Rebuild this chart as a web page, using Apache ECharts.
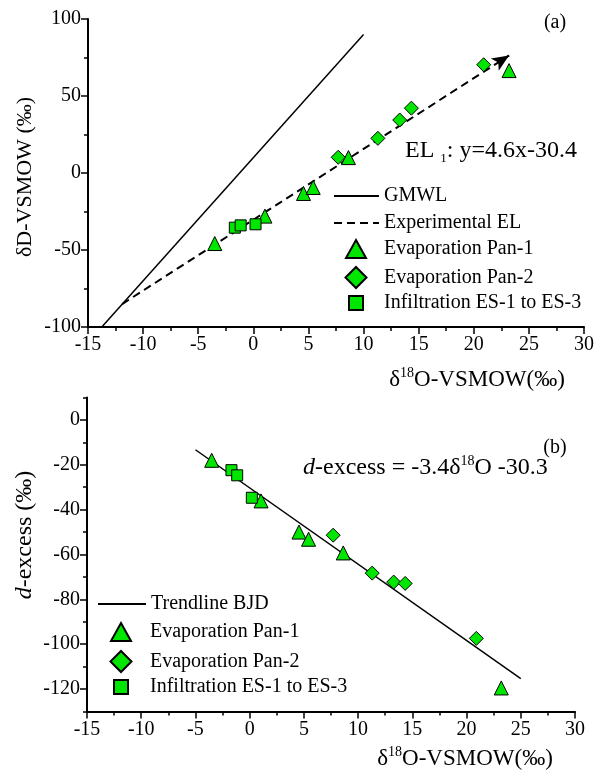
<!DOCTYPE html>
<html><head><meta charset="utf-8">
<script src="https://cdn.jsdelivr.net/npm/echarts@6/dist/echarts.min.js"></script>
<style>html,body{margin:0;padding:0;background:#fff}#c{width:598px;height:772px}</style>
</head><body><div id="c"></div>
<script>
// ---- data (δ18O on x) ----
const pan1_d18O = [-3.5, 1.05, 4.55, 5.43, 8.63, 23.2];
const pan1_dD   = [-45.8, -28.0, -13.3, -9.4, 10.0, 66.5];
const pan1_dex  = [-18.0, -36.1, -50.0, -53.2, -59.3, -119.5];
const pan2_d18O = [7.7, 11.3, 13.28, 14.34, 20.9];
const pan2_dD   = [10.2, 22.5, 34.4, 42.1, 70.3];
const pan2_dex  = [-51.4, -68.3, -72.3, -72.9, -97.4];
const inf_d18O  = [-1.68, -1.15, 0.2];
const inf_dD    = [-35.5, -34.0, -33.3];
const inf_dex   = [-22.4, -24.7, -34.7];
const gmwl_x = [-13.75, 10];   const gmwl_y = [-100, 90];
const el_x   = [-11.9, 23.2];  const el_y   = [-85.1, 76.3];
const trend_x = [-5, 25];      const trend_y = [-13.3, -115.3];
const xTicks = {min: -15, max: 30, interval: 5};
const yTopTicks = {min: -100, max: 100, interval: 50};
const yBotTicks = {min: -130, max: 10, interval: 10};
const yBotMajor = [0, -20, -40, -60, -80, -100, -120];

const zip = (a, b) => a.map((v, i) => [v, b[i]]);
const FONT = 'Liberation Serif';
const GREEN = '#00e600';

function axisBase() {
  return {
    type: 'value',
    axisLine: {show: true, onZero: false, lineStyle: {color: '#000', width: 2}},
    axisTick: {show: true, inside: false, length: 7, lineStyle: {color: '#000', width: 1.5}},
    minorTick: {show: true, splitNumber: 2, length: 4, lineStyle: {color: '#000', width: 1.5}},
    splitLine: {show: false},
    minorSplitLine: {show: false},
    axisLabel: {color: '#000', fontSize: 20, fontFamily: FONT, margin: 8}
  };
}

const mk = {color: GREEN, borderColor: '#000', borderWidth: 1, opacity: 1};
function scatter(name, sym, size, xi, data) {
  return {name, type: 'scatter', xAxisIndex: xi, yAxisIndex: xi, symbol: sym, symbolSize: size,
    itemStyle: mk, data, z: 5, emphasis: {disabled: true}};
}
function lineS(name, xi, data, type, width) {
  return {name, type: 'line', xAxisIndex: xi, yAxisIndex: xi, data, symbol: 'none', showSymbol: false,
    lineStyle: {color: '#000', width, type}, itemStyle: {color: '#000'}, z: 2, silent: true, animation: false};
}

const elSeries = lineS('Experimental EL', 0, zip(el_x, el_y), [8, 5], 2);
const t = 0.97;
elSeries.markLine = {
  silent: true, animation: false, symbol: ['none', 'arrow'], symbolSize: [11, 17],
  label: {show: false}, lineStyle: {color: '#000', type: 'solid', width: 2},
  data: [[{coord: [el_x[0] + (el_x[1] - el_x[0]) * t, el_y[0] + (el_y[1] - el_y[0]) * t]},
          {coord: [el_x[1], el_y[1]]}]]
};

const series = [
  lineS('GMWL', 0, zip(gmwl_x, gmwl_y), 'solid', 1.5),
  elSeries,
  scatter('Evaporation Pan-1', 'triangle', 14, 0, zip(pan1_d18O, pan1_dD)),
  scatter('Evaporation Pan-2', 'diamond', 14, 0, zip(pan2_d18O, pan2_dD)),
  scatter('Infiltration ES-1 to ES-3', 'rect', 11, 0, zip(inf_d18O, inf_dD)),
  lineS('Trendline BJD', 1, zip(trend_x, trend_y), 'solid', 1.5),
  scatter('Evaporation Pan-1', 'triangle', 14, 1, zip(pan1_d18O, pan1_dex)),
  scatter('Evaporation Pan-2', 'diamond', 14, 1, zip(pan2_d18O, pan2_dex)),
  scatter('Infiltration ES-1 to ES-3', 'rect', 11, 1, zip(inf_d18O, inf_dex))
];

function legLine(name, left, cy, w) {
  return {data: [name], left, top: cy - 11, itemWidth: w, itemHeight: 14, selectedMode: false, padding: 0,
    itemStyle: {color: 'rgba(0,0,0,0)', borderWidth: 0},
    textStyle: {color: '#000', fontSize: 20, fontFamily: FONT}};
}
function legSym(name, cx, cy, w, h, textX) {
  const left = cx - w / 2;
  return {data: [name], left, top: cy - 11, itemWidth: w, itemHeight: h, selectedMode: false, padding: 0,
    itemStyle: {opacity: 1},
    textStyle: {color: '#000', fontSize: 20, fontFamily: FONT, padding: [0, 0, 0, textX - (left + w + 5)]}};
}
const legends = [
  legLine('GMWL', 333, 197, 45),
  legLine('Experimental EL', 333, 224, 45),
  legSym('Evaporation Pan-1', 355, 250, 20, 18, 383),
  legSym('Evaporation Pan-2', 355, 277, 21, 21, 383),
  legSym('Infiltration ES-1 to ES-3', 355, 304, 14, 14, 383),
  legLine('Trendline BJD', 97, 605, 48),
  legSym('Evaporation Pan-1', 120, 633, 20, 18, 149),
  legSym('Evaporation Pan-2', 120, 661, 21, 21, 149),
  legSym('Infiltration ES-1 to ES-3', 120, 688, 14, 14, 149)
];

const xa0 = Object.assign(axisBase(), {gridIndex: 0}, xTicks);
const xa1 = Object.assign(axisBase(), {gridIndex: 1}, xTicks);
const ya0 = Object.assign(axisBase(), {gridIndex: 0}, yTopTicks);
ya0.axisLabel.margin = 7;
const ya1 = Object.assign(axisBase(), {gridIndex: 1, position: 'left'}, yBotTicks);
ya1.minorTick = {show: false};
ya1.axisTick.length = 4;
ya1.axisLabel.margin = 7;
ya1.axisLabel.formatter = v => (v % 20 === 0 ? String(v) : '');
const ya2 = Object.assign(axisBase(), {gridIndex: 1, position: 'left'}, yBotTicks);
ya2.axisLine = {show: false, onZero: false};
ya2.axisLabel = {show: false};
ya2.minorTick = {show: false};
ya2.axisTick.customValues = yBotMajor;

function richSet(fs) {
  const base = {fontSize: fs, fontFamily: FONT, color: '#000', lineHeight: fs + 4};
  return {
    b: base,
    i: Object.assign({}, base, {fontStyle: 'italic'}),
    sup: {fontSize: Math.round(fs * 0.6), fontFamily: FONT, color: '#000', verticalAlign: 'top', lineHeight: fs + 4},
    sub: {fontSize: Math.round(fs * 0.55), fontFamily: FONT, color: '#000', verticalAlign: 'bottom', lineHeight: fs + 4}
  };
}
function gtext(x, y, text, fs, align, rotation) {
  return {type: 'text', x, y, rotation: rotation || 0, silent: true,
    style: {text, fill: '#000', fontSize: fs, fontFamily: FONT, align: align || 'left', verticalAlign: 'middle',
      rich: richSet(fs)}};
}
const graphics = [
  gtext(555, 23, '{b|(a)}', 20, 'center'),
  gtext(555, 448, '{b|(b)}', 20, 'center'),
  gtext(405, 151, '{b|EL }{sub|1}{b|: y=4.6x-30.4}', 24),
  gtext(303, 468, '{i|d}{b|-excess = -3.4δ}{sup|18}{b|O -30.3}', 24),
  gtext(477, 380, '{b|δ}{sup|18}{b|O-VSMOW(‰)}', 23, 'center'),
  gtext(465, 759, '{b|δ}{sup|18}{b|O-VSMOW(‰)}', 23, 'center'),
  gtext(25, 177, '{b|δD-VSMOW (‰)}', 22, 'center', Math.PI / 2),
  gtext(25, 535, '{i|d}{b|-excess (‰)}', 24, 'center', Math.PI / 2)
];

const chart = echarts.init(document.getElementById('c'), null, {renderer: 'canvas'});
chart.setOption({
  animation: false,
  backgroundColor: '#fff',
  grid: [
    {left: 88, right: 14, top: 19, height: 308},
    {left: 87, right: 23, top: 397.5, height: 314}
  ],
  xAxis: [xa0, xa1],
  yAxis: [ya0, ya1, ya2],
  legend: legends,
  series,
  graphic: graphics
});
</script></body></html>
